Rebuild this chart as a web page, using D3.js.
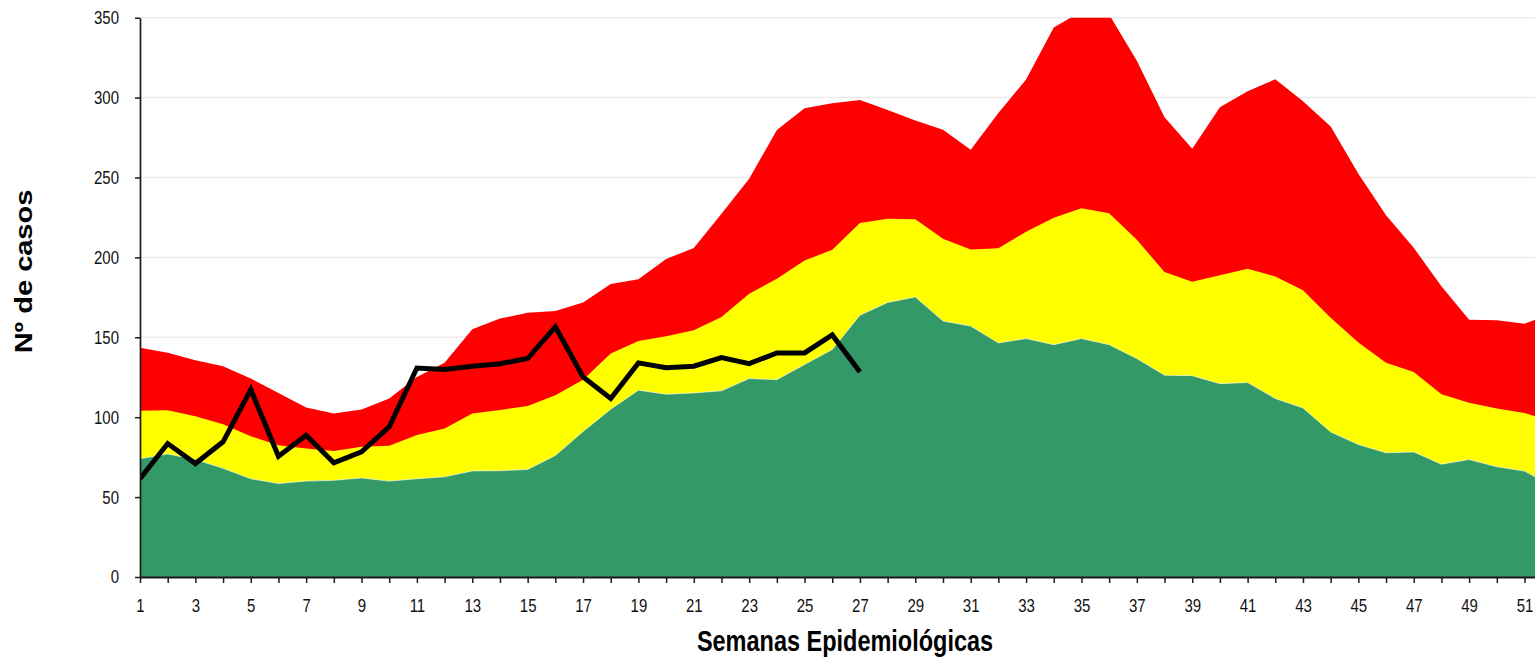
<!DOCTYPE html>
<html>
<head>
<meta charset="utf-8">
<script src="https://cdn.jsdelivr.net/npm/d3@7"></script>
<style>
  html, body { margin: 0; padding: 0; background: #fff; }
  svg { display: block; font-family: "Liberation Sans", Arial, sans-serif; }
  .axis path, .axis line { stroke: #1a1a1a; }
  .axis text { fill: #111; font-size: 18.5px; }
  .label { font-weight: bold; font-size: 29px; fill: #000; }
</style>
</head>
<body>
<div id="chart"></div>
<script>
const weeks = [1, 2, 3, 4, 5, 6, 7, 8, 9, 10, 11, 12, 13, 14, 15, 16, 17, 18, 19, 20,
  21, 22, 23, 24, 25, 26, 27, 28, 29, 30, 31, 32, 33, 34, 35, 36, 37, 38, 39, 40,
  41, 42, 43, 44, 45, 46, 47, 48, 49, 50, 51, 52];

// zone limits (upper edge of each band)
const successZone = [74, 77, 73.5, 68, 61.5, 58.5, 60, 60.5, 62, 60, 61.5, 62.7, 66.4, 66.5, 67.3, 76,
  91, 105, 116.9, 114.4, 115.2, 116.5, 124.2, 123.5, 133, 142.3, 163.8, 171.8, 175.2, 160.2,
  157, 146.5, 149.2, 145.4, 149.2, 145.4, 136.7, 126.3, 126, 121, 121.7, 111.7, 105.8, 90.8,
  82.9, 77.7, 78.3, 70.6, 73.5, 69, 66.3, 57];
const safetyZone = [104, 104.4, 100.6, 95.6, 88.1, 82.5, 80.4, 78.9, 81.5, 82.1, 88.8, 92.9, 102.3,
  104.5, 107, 113.8, 123.5, 139.8, 147.7, 150.6, 154.4, 162.7, 177.3, 186.7, 198, 204.8,
  221.6, 224.2, 223.9, 211.7, 204.9, 205.8, 216, 224.8, 230.7, 227.7, 211, 190.8, 184.8,
  188.8, 192.9, 188.1, 179.4, 162.3, 146.7, 134, 128.3, 114.4, 109, 105.4, 102.7, 97];
const alertZone = [143.5, 140.4, 135.6, 131.9, 124.2, 115.2, 106, 102.3, 104.8, 111.7, 125.2, 134,
  155, 161.7, 165.4, 166.5, 171.7, 183.3, 186.4, 199, 205.9, 227.3, 249.2, 279.8, 293.3,
  296.5, 298.5, 292.3, 285.7, 279.9, 267.4, 290.3, 311.4, 343.8, 354, 352, 323, 287.7, 268,
  294, 304, 311.5, 297.7, 281.9, 252.3, 226.3, 206, 181.9, 161, 160.6, 158.5, 165];

// current year cases, weeks 1..27
const caseWeeks = [1, 2, 3, 4, 5, 6, 7, 8, 9, 10, 11, 12, 13, 14, 15, 16, 17, 18, 19, 20,
  21, 22, 23, 24, 25, 26, 27];
const cases = [61.5, 83.5, 71, 84.6, 117.3, 75.6, 88.7, 71.5, 78.3, 94, 130.8, 129.8, 131.9, 133.5,
  136.7, 156.5, 125.2, 111.7, 134, 131, 131.9, 137.3, 133.5, 140.2, 140.2, 151.5, 128.3];

const yTicks = [0, 50, 100, 150, 200, 250, 300, 350];

const width = 1535;
const height = 657;
const plotLeft = 140;
const plotTop = 17.7;
const plotBottom = 577;
const weekStep = 27.69;
const squeeze = 0.81;

const svg = d3.select('#chart')
  .append('svg')
  .attr('width', width)
  .attr('height', height);

const x = d3.scaleLinear().domain([1, 52]).range([plotLeft, plotLeft + 51 * weekStep]);
const y = d3.scaleLinear().domain([0, 350]).range([plotBottom, plotTop]);

svg.append('clipPath')
  .attr('id', 'plot')
  .append('rect')
  .attr('x', plotLeft)
  .attr('y', plotTop)
  .attr('width', width - plotLeft)
  .attr('height', plotBottom - plotTop);

// gridlines
svg.append('g')
  .selectAll('line')
  .data(yTicks.filter(d => d > 0))
  .enter()
  .append('line')
  .attr('x1', plotLeft)
  .attr('x2', width)
  .attr('y1', d => y(d))
  .attr('y2', d => y(d))
  .attr('stroke', '#ececec')
  .attr('stroke-width', 1.5);

const bands = [
  { values: alertZone, color: '#ff0000' },
  { values: safetyZone, color: '#ffff00' },
  { values: successZone, color: '#339966' },
];

const area = d3.area()
  .x((d, i) => x(weeks[i]))
  .y0(y(0))
  .y1(d => y(d));

const plot = svg.append('g').attr('clip-path', 'url(#plot)');

bands.forEach((band) => {
  plot.append('path')
    .datum(band.values)
    .attr('d', area)
    .attr('fill', band.color);
});

// faint light edge on top of the green band
plot.append('path')
  .datum(successZone)
  .attr('d', d3.line().x((d, i) => x(weeks[i])).y(d => y(d)))
  .attr('fill', 'none')
  .attr('stroke', 'rgba(255,255,255,0.6)')
  .attr('stroke-width', 1);

plot.append('path')
  .datum(cases)
  .attr('d', d3.line().x((d, i) => x(caseWeeks[i])).y(d => y(d)))
  .attr('fill', 'none')
  .attr('stroke', '#000')
  .attr('stroke-width', 5)
  .attr('stroke-linejoin', 'miter');

// axes
const yAxis = d3.axisLeft(y).tickValues(yTicks).tickSize(5).tickSizeOuter(0);
const xAxis = d3.axisBottom(x)
  .tickValues(weeks)
  .tickSize(6)
  .tickSizeOuter(0)
  .tickFormat(d => (d % 2 === 1 ? d : ''));

const gy = svg.append('g')
  .attr('class', 'axis')
  .attr('transform', `translate(${plotLeft}, 0)`)
  .call(yAxis);
gy.select('.domain').attr('stroke-width', 1.7);
gy.selectAll('.tick line').attr('stroke-width', 1.5);
gy.selectAll('text')
  .attr('x', -21 / squeeze)
  .attr('transform', `scale(${squeeze},1)`);

const gx = svg.append('g')
  .attr('class', 'axis')
  .attr('transform', `translate(0, ${plotBottom})`)
  .call(xAxis);
gx.select('.domain').attr('stroke-width', 2.2);
gx.selectAll('.tick line').attr('stroke-width', 1.5);
gx.selectAll('text')
  .attr('y', 35)
  .attr('dy', 0)
  .attr('transform', `scale(${squeeze},1)`);

// titles
svg.append('text')
  .attr('class', 'label')
  .attr('text-anchor', 'middle')
  .attr('transform', `translate(845, 651) scale(${squeeze},1)`)
  .text('Semanas Epidemiológicas');

svg.append('text')
  .attr('class', 'label')
  .attr('text-anchor', 'middle')
  .attr('transform', `translate(32, 271.5) scale(${squeeze},1) rotate(-90)`)
  .text('Nº de casos');
</script>
</body>
</html>
